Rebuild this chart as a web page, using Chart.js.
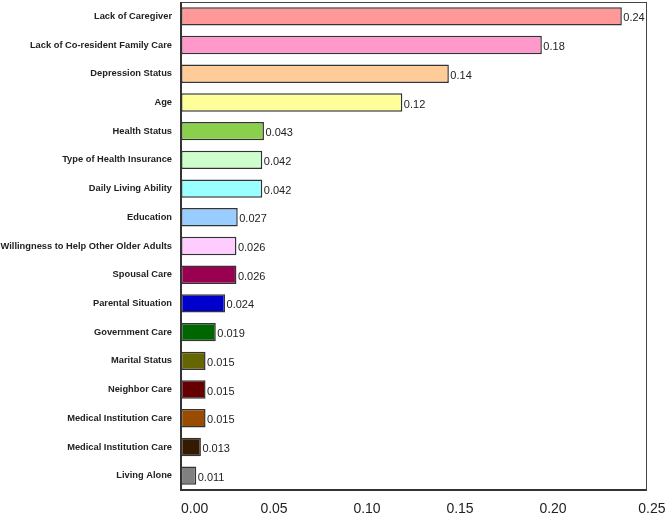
<!DOCTYPE html>
<html>
<head>
<meta charset="utf-8">
<script src="https://cdn.jsdelivr.net/npm/chart.js@4/dist/chart.umd.min.js"></script>
<style>
  html, body { margin: 0; padding: 0; background: #fff; }
  #wrap { width: 669px; height: 513px; }
</style>
</head>
<body>
<div id="wrap"><canvas id="myBarChart"></canvas></div>
<script>
// categories, top to bottom
const factors = ['Lack of Caregiver', 'Lack of Co-resident Family Care', 'Depression Status', 'Age',
  'Health Status', 'Type of Health Insurance', 'Daily Living Ability', 'Education',
  'Willingness to Help Other Older Adults', 'Spousal Care', 'Parental Situation', 'Government Care',
  'Marital Status', 'Neighbor Care', 'Medical Institution Care', 'Medical Institution Care', 'Living Alone'];

// bar lengths as drawn
const importance = [0.237, 0.194, 0.144, 0.119, 0.0446, 0.0437, 0.0437, 0.0305, 0.0298, 0.0298,
  0.0237, 0.0187, 0.0132, 0.0132, 0.0132, 0.0107, 0.0082];

// printed value labels
const valueLabels = ['0.24', '0.18', '0.14', '0.12', '0.043', '0.042', '0.042', '0.027', '0.026', '0.026',
  '0.024', '0.019', '0.015', '0.015', '0.015', '0.013', '0.011'];

const barColors = ['#FF9999', '#FF99CC', '#FFCC99', '#FFFF99', '#8AD04C', '#CCFFCC', '#99FFFF', '#99CCFF',
  '#FFCCFF', '#990050', '#0000CC', '#006600', '#666600', '#660000', '#994C00', '#331A00', '#808080'];

const xTicks = [0, 0.05, 0.10, 0.15, 0.20, 0.25];

// value text at the end of each bar
const valueText = {
  id: 'valueText',
  afterDatasetsDraw(chart) {
    const ctx = chart.ctx;
    const meta = chart.getDatasetMeta(0);
    ctx.save();
    ctx.font = '11px "Liberation Sans", Arial, sans-serif';
    ctx.fillStyle = '#222';
    ctx.textAlign = 'left';
    ctx.textBaseline = 'middle';
    meta.data.forEach((bar, i) => {
      ctx.fillText(valueLabels[i], bar.x + 1.5, bar.y + 2);
    });
    ctx.restore();
  }
};

// box round the plot
const frame = {
  id: 'frame',
  afterDraw(chart) {
    const a = chart.chartArea;
    const ctx = chart.ctx;
    ctx.save();
    ctx.strokeStyle = '#444';
    ctx.lineWidth = 1;
    ctx.strokeRect(a.left + 0.5, a.top + 0.5, a.right - a.left, a.bottom - a.top);
    ctx.strokeStyle = '#333';
    ctx.lineWidth = 2;
    ctx.beginPath();
    ctx.moveTo(a.left, a.top);
    ctx.lineTo(a.left, a.bottom);
    ctx.lineTo(a.right, a.bottom);
    ctx.stroke();
    ctx.restore();
  }
};

const barCtx = document.getElementById('myBarChart').getContext('2d');
const myBarChart = new Chart(barCtx, {
  type: 'bar',
  data: {
    labels: factors,
    datasets: [{
      data: importance,
      backgroundColor: barColors,
      borderColor: '#333',
      borderWidth: 1.5,
      borderSkipped: false,
      barPercentage: 0.64,
      categoryPercentage: 1
    }]
  },
  options: {
    indexAxis: 'y',
    responsive: true,
    maintainAspectRatio: false,
    animation: false,
    layout: { padding: { left: 0, right: 23, top: 2, bottom: 0 } },
    plugins: {
      legend: { display: false },
      tooltip: { enabled: false }
    },
    scales: {
      x: {
        min: 0,
        max: 0.25,
        afterBuildTicks: (scale) => { scale.ticks = xTicks.map(v => ({ value: v })); },
        afterFit: (scale) => { scale.height = 23; scale.paddingLeft = 0; scale.paddingRight = 0; },
        grid: { display: false, drawTicks: false },
        border: { display: false },
        ticks: {
          padding: 11,
          color: '#222',
          font: { family: '"Liberation Sans", Arial, sans-serif', size: 14 },
          callback: (v) => {
            const s = Number(v).toFixed(2);
            if (v === 0) return '       ' + s;
            if (v === 0.25) return '   ' + s;
            return s;
          }
        }
      },
      y: {
        afterFit: (scale) => { scale.width = 181; scale.paddingTop = 0; scale.paddingBottom = 0; },
        grid: { display: false, drawTicks: false },
        border: { display: false },
        ticks: {
          padding: 9,
          color: '#222',
          font: { family: '"Liberation Sans", Arial, sans-serif', size: 9.3, weight: 'bold' }
        }
      }
    }
  },
  plugins: [valueText, frame]
});
</script>
</body>
</html>
